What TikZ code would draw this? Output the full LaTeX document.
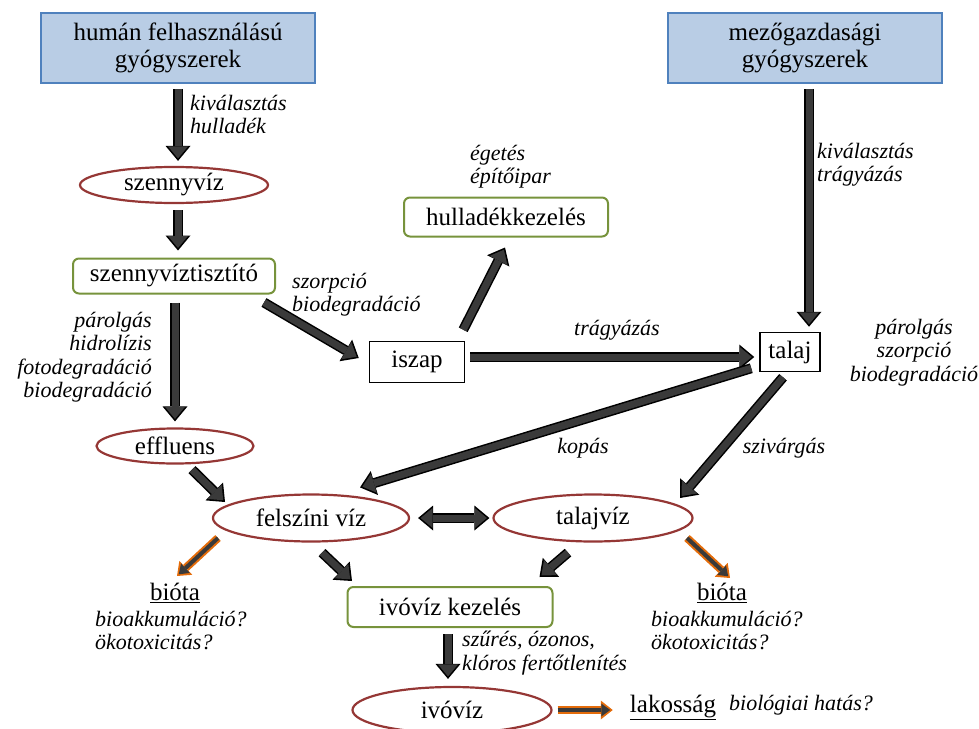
\documentclass[tikz,border=0pt]{standalone}
\usepackage{fontspec}
\setmainfont{LiberationSerif}[Extension=.ttf, UprightFont=*-Regular, ItalicFont=*-Italic, BoldFont=*-Bold, BoldItalicFont=*-BoldItalic]
\usepackage{xcolor}
\usepackage{tikz}
\usetikzlibrary{arrows.meta, positioning, shapes.geometric, calc}

\definecolor{srcfill}{HTML}{B9CDE5}
\definecolor{srcline}{HTML}{4F81BD}
\definecolor{waterline}{HTML}{953735}
\definecolor{procline}{HTML}{77933C}
\definecolor{flowgray}{HTML}{3A3A3A}
\definecolor{bioorange}{HTML}{E46C0A}

\begin{document}
\begin{tikzpicture}[
      x=1pt, y=-1pt,
      every node/.style={font=\fontsize{25}{27}\selectfont, inner sep=0pt},
      source/.style={rectangle, draw=srcline, fill=srcfill, line width=1.8pt, minimum width=274pt, minimum height=70pt, align=center},
      water/.style={ellipse, draw=waterline, line width=2.2pt, minimum height=36pt},
      process/.style={rectangle, rounded corners=6pt, draw=procline, line width=2pt, minimum height=36pt},
      medium/.style={rectangle, draw, line width=1.5pt, minimum height=40pt},
      note/.style={font=\fontsize{22}{23.5}\selectfont\itshape, align=left},
      flow/.style={draw=flowgray, line width=7pt, shorten >=2.5pt,
        -{Triangle[length=12pt, width=20pt, line width=0pt]},
        preaction={draw=black, line width=10pt, shorten >=0pt,
          -{Triangle[length=15pt, width=25pt, line width=0pt]}}},
      flowboth/.style={draw=flowgray, line width=7pt, shorten >=2.5pt, shorten <=2.5pt,
        {Triangle[length=12pt, width=20pt, line width=0pt]}-{Triangle[length=12pt, width=20pt, line width=0pt]},
        preaction={draw=black, line width=10pt, shorten >=0pt, shorten <=0pt,
          {Triangle[length=15pt, width=25pt, line width=0pt]}-{Triangle[length=15pt, width=25pt, line width=0pt]}}},
      bioflow/.style={draw=flowgray, line width=4pt, shorten >=2.5pt,
        -{Triangle[length=9pt, width=13pt, line width=0pt]},
        preaction={draw=bioorange, line width=8pt, shorten >=0pt,
          -{Triangle[length=12pt, width=19pt, line width=0pt]}}}
    ]
      \useasboundingbox (0,0) rectangle (979,728);
      \clip (0,0) rectangle (979,728);

      \node[source] (human) at (178,48) {humán felhasználású\\gyógyszerek};
      \node[source] (agri) at (805,48) {mezőgazdasági\\gyógyszerek};
      \node[water, minimum width=188pt] (szennyviz) at (174,185) {szennyvíz};
      \node[process, minimum width=202pt, minimum height=35pt] (tisztito) at (174,276) {szennyvíztisztító};
      \node[process, minimum width=204pt, minimum height=39pt] (hulladek) at (506,217) {hulladékkezelés};
      \node[medium, minimum width=95pt, minimum height=41pt] (iszap) at (417,362) {iszap};
      \node[medium, minimum width=60pt, minimum height=39pt] (talaj) at (790,352) {talaj};
      \node[water, minimum width=157pt, minimum height=35pt] (effluens) at (175,446) {effluens};
      \node[water, minimum width=196pt, minimum height=47pt] (felszini) at (311,518) {felszíni víz};
      \node[water, minimum width=199pt, minimum height=47pt] (talajviz) at (593,518) {talajvíz};
      \node[process, minimum width=205pt, minimum height=40pt] (kezeles) at (450,607) {ivóvíz kezelés};
      \node[water, minimum width=199pt, minimum height=46pt] (ivoviz) at (452,710) {ivóvíz};
      \node (biota1) at (175,593) {\underline{bióta}};
      \node (biota2) at (722,593) {\underline{bióta}};
      \node (lakossag) at (673,707) {\underline{lakosság}};

      \node[note, anchor=west] (hatas) at (729,705) {biológiai hatás?};
      \node[note, anchor=north west] (kival1) at (190,95) {kiválasztás\\hulladék};
      \node[note, anchor=north west] (kival2) at (817,143) {kiválasztás\\trágyázás};
      \node[note, anchor=north west] (eget) at (470,145) {égetés\\építőipar};
      \node[note, anchor=north west] (szorp) at (292,273) {szorpció\\biodegradáció};
      \node[note, anchor=north east, align=right] (parol1) at (152,312) {párolgás\\hidrolízis\\fotodegradáció\\biodegradáció};
      \node[note] (tragy) at (617,330) {trágyázás};
      \node[note, anchor=north, align=center] (parol2) at (914,319) {párolgás\\szorpció\\biodegradáció};
      \node[note] (kopas) at (583,448) {kopás};
      \node[note] (szivar) at (784,448) {szivárgás};
      \node[note, anchor=north west] (bio1) at (95,611) {bioakkumuláció?\\ökotoxicitás?};
      \node[note, anchor=north west] (bio2) at (651,611) {bioakkumuláció?\\ökotoxicitás?};
      \node[note, anchor=north west] (szures) at (462,631) {szűrés, ózonos,\\klóros fertőtlenítés};

      \draw[flow] ($(human.south)+(0,5)$) -- ($(human.south |- szennyviz.north)+(0,-5)$);
      \draw[flow] ($(szennyviz.south)+(4,6)$) -- ($(tisztito.north)+(4,-7)$);
      \draw[flow] ($(tisztito.south)+(1,8)$) -- ($(effluens.north)+(0,-6)$);
      \draw[flow] ($(tisztito.south east)+(-12,8)$) -- ($(iszap.west)+(-10,-4)$);
      \draw[flow] ($(iszap.north east)+(-2,-11)$) -- ($(hulladek.south)+(-1,10)$);
      \draw[flow] ($(iszap.east)+(5,-5)$) -- ($(talaj.west)+(-5,5)$);
      \draw[flow] ($(agri.south)+(4,5)$) -- ($(agri.south |- talaj.north)+(4,-5)$);
      \draw[flow] ($(talaj.south west)+(-8,-4)$) -- ($(felszini.north)+(49,-6)$);
      \draw[flow] ($(talaj.south)+(-7,5)$) -- ($(talajviz.center)+(87,-20)$);
      \draw[flow] ($(effluens.south)+(17,5)$) -- ($(felszini.center)+(-86,-16)$);
      \draw[flowboth] ($(felszini.east)+(8,0)$) -- ($(talajviz.west)+(-3,0)$);
      \draw[flow] ($(felszini.south)+(11,10)$) -- ($(kezeles.north west)+(5.5,-5)$);
      \draw[flow] ($(talajviz.south)+(-25,10)$) -- ($(kezeles.north east)+(-14,-9)$);
      \draw[flow] ($(kezeles.south)+(-2,6)$) -- ($(ivoviz.north)+(-4,-7)$);
      \draw[bioflow] ($(felszini.center)+(-93,20)$) -- ($(biota1.north)+(2,-7)$);
      \draw[bioflow] ($(talajviz.center)+(94,20)$) -- ($(biota2.north)+(8,-5)$);
      \draw[bioflow] ($(ivoviz.east)+(5,0)$) -- ($(lakossag.west)+(-17,3)$);
    \end{tikzpicture}
\end{document}
